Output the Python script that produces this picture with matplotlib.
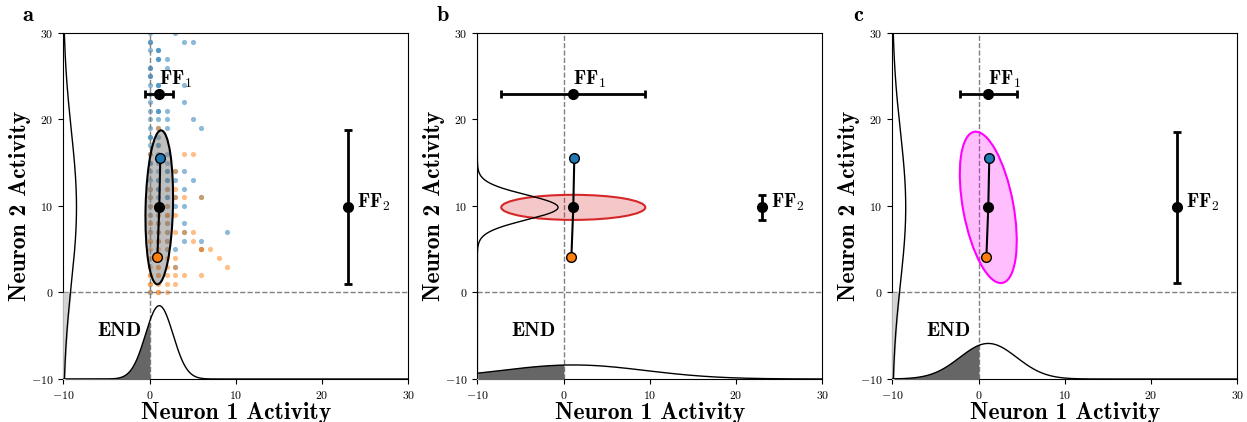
import numpy as np
import matplotlib
matplotlib.use('Agg')
import matplotlib.pyplot as plt
from matplotlib.patches import Ellipse

plt.rcParams['font.family'] = 'cmr10'
plt.rcParams['mathtext.fontset'] = 'cm'
plt.rcParams['axes.formatter.use_mathtext'] = True

# scatter of the two stimulus classes (panel a), integer spike counts
blue_pts = [
    (0, 30), (3, 30), (0, 29), (0, 29), (4, 29), (5, 29), (0, 28), (1, 28), (1, 28),
    (1, 27), (1, 27), (2, 27), (0, 26), (0, 26), (2, 26), (0, 25), (0, 25),
    (0, 24), (1, 24), (1, 24), (4, 24), (0, 23), (1, 23), (0, 22), (4, 22),
    (0, 21), (1, 21), (1, 21), (2, 21), (0, 20), (1, 20), (2, 20), (5, 20),
    (0, 19), (1, 19), (2, 19), (6, 19), (0, 18), (0, 18), (1, 18), (0, 17), (1, 17), (1, 17),
    (0, 16), (1, 16), (2, 16), (0, 15), (0, 15), (1, 15), (2, 15),
    (0, 14), (1, 14), (2, 14), (2, 14), (3, 14), (4, 14),
    (0, 13), (1, 13), (1, 13), (2, 13), (2, 13), (3, 13), (5, 13),
    (0, 12), (1, 12), (1, 12), (2, 12), (4, 12),
    (0, 11), (1, 11), (2, 11), (2, 11), (3, 11), (6, 11),
    (0, 10), (1, 10), (2, 10), (3, 10), (4, 10), (0, 9), (1, 9), (2, 9),
    (1, 8), (2, 8), (4, 8), (0, 7), (1, 7), (2, 7), (4, 7), (9, 7),
    (1, 6), (2, 6), (4, 6), (6, 6), (2, 5), (3, 5), (6, 5), (3, 3), (0, 0),
]
orange_pts = [
    (1, 19), (0, 16), (4, 16), (5, 16), (3, 14), (0, 12), (2, 12), (3, 12),
    (0, 11), (3, 11), (4, 11), (6, 11), (0, 10), (1, 10), (2, 10),
    (0, 9), (1, 9), (2, 9), (2, 9), (3, 9), (0, 8), (0, 8), (1, 8), (2, 8),
    (0, 7), (1, 7), (2, 7), (3, 7), (4, 7), (5, 7),
    (0, 6), (0, 6), (1, 6), (1, 6), (2, 6), (5, 6),
    (0, 5), (1, 5), (2, 5), (6, 5), (6, 5), (7, 5),
    (0, 4), (1, 4), (2, 4), (3, 4), (8, 4),
    (0, 3), (1, 3), (1, 3), (2, 3), (3, 3), (9, 3),
    (0, 2), (0, 2), (1, 2), (1, 2), (2, 2), (3, 2), (4, 2), (6, 2),
    (0, 1), (0, 1), (1, 1), (2, 1), (3, 1), (0, 0), (1, 0), (1, 0), (2, 0),
]

# class means and overall mean
blue_mean = (1.24, 15.6)
orange_mean = (0.9, 4.06)
grand_mean = (1.12, 9.84)

# per panel: std of neuron 1, std of neuron 2, correlation
panels = ['a', 'b', 'c']
sd_n1 = [1.6, 8.35, 3.3]
sd_n2 = [8.9, 1.45, 8.75]
corr = [0.13, 0.0, -0.44]
ell_face = ['gray', '#d62728', 'magenta']
ell_edge = ['black', '#d62728', 'magenta']
ell_alpha = [0.5, 0.25, 0.25]

ff1_y = 23
ff2_x = 23
marg_scale = 34.0

fig = plt.figure(figsize=(12.47, 4.22), dpi=100)
lefts = [0.0508, 0.3828, 0.7156]
letter_x = [0.0225, 0.355, 0.688]

for i, name in enumerate(panels):
    ax = fig.add_axes([lefts[i], 0.1019, 0.2767, 0.820])
    mx, my = grand_mean
    sx, sy, r = sd_n1[i], sd_n2[i], corr[i]

    if name == 'a':
        bx, by = zip(*blue_pts)
        ox, oy = zip(*orange_pts)
        ax.scatter(bx, by, s=14, color='#1f77b4', alpha=0.5, lw=0, zorder=1)
        ax.scatter(ox, oy, s=14, color='#ff7f0e', alpha=0.5, lw=0, zorder=1)

    ax.axvline(0, color='gray', ls='--', lw=1, zorder=2)
    ax.axhline(0, color='gray', ls='--', lw=1, zorder=2)

    # covariance ellipse (1 sd)
    cov = np.array([[sx**2, r*sx*sy], [r*sx*sy, sy**2]])
    vals, vecs = np.linalg.eigh(cov)
    ang = np.degrees(np.arctan2(vecs[1, 1], vecs[0, 1]))
    w, h = 2*np.sqrt(vals[1]), 2*np.sqrt(vals[0])
    ax.add_patch(Ellipse((mx, my), w, h, angle=ang,
                         facecolor=ell_face[i], alpha=ell_alpha[i], zorder=3))
    ax.add_patch(Ellipse((mx, my), w, h, angle=ang,
                         facecolor='none', edgecolor=ell_edge[i], lw=1.5, zorder=3))

    # marginal of neuron 1 along the bottom
    xs = np.linspace(-10, 30, 600)
    px = marg_scale*np.exp(-0.5*((xs - mx)/sx)**2)/(sx*np.sqrt(2*np.pi)) - 10
    ax.plot(xs, px, color='black', lw=1, zorder=4)
    ax.fill_between(xs, -10, px, where=xs <= 0, color='#666666', zorder=3)

    # marginal of neuron 2 along the left
    ys = np.linspace(-10, 30, 600)
    py = marg_scale*np.exp(-0.5*((ys - my)/sy)**2)/(sy*np.sqrt(2*np.pi)) - 10
    ax.plot(py, ys, color='black', lw=1, zorder=4)
    ax.fill_betweenx(ys, -10, py, where=ys <= 0, color='#d3d3d3', zorder=3)

    # means joined
    ax.plot([blue_mean[0], mx, orange_mean[0]], [blue_mean[1], my, orange_mean[1]],
            color='black', lw=1.5, zorder=5)
    ax.plot(*blue_mean, 'o', ms=7, mfc='#1f77b4', mec='black', zorder=6)
    ax.plot(*orange_mean, 'o', ms=7, mfc='#ff7f0e', mec='black', zorder=6)
    ax.plot(mx, my, 'o', ms=7, color='black', zorder=6)

    # FF error bars
    ax.errorbar(mx, ff1_y, xerr=sx, fmt='o', color='black', ms=7, elinewidth=2,
                capsize=3, capthick=2, zorder=6)
    ax.errorbar(ff2_x, my, yerr=sy, fmt='o', color='black', ms=7, elinewidth=2,
                capsize=3, capthick=2, zorder=6)
    ax.text(mx, ff1_y + 1.0, r'$\mathbf{FF}_1$', fontsize=14, ha='left', va='baseline')
    ax.text(ff2_x + 1.0, my, r'$\mathbf{FF}_2$', fontsize=14, ha='left', va='baseline')
    ax.text(-0.9, -5.0, 'END', fontfamily='cmb10', fontsize=14.5, ha='right', va='baseline')

    ax.set_xlim(-10, 30)
    ax.set_ylim(-10, 30)
    ax.set_xticks([-10, 0, 10, 20, 30])
    ax.set_yticks([-10, 0, 10, 20, 30])
    ax.tick_params(labelsize=8.5)
    ax.set_xlabel('Neuron 1 Activity', fontfamily='cmb10', fontsize=17, labelpad=1)
    ax.set_ylabel('Neuron 2 Activity', fontfamily='cmb10', fontsize=17, labelpad=0)
    fig.text(letter_x[i], 0.964, name, fontfamily='cmb10', fontsize=16, ha='center', va='center')

fig.savefig('out.png', dpi=100)
